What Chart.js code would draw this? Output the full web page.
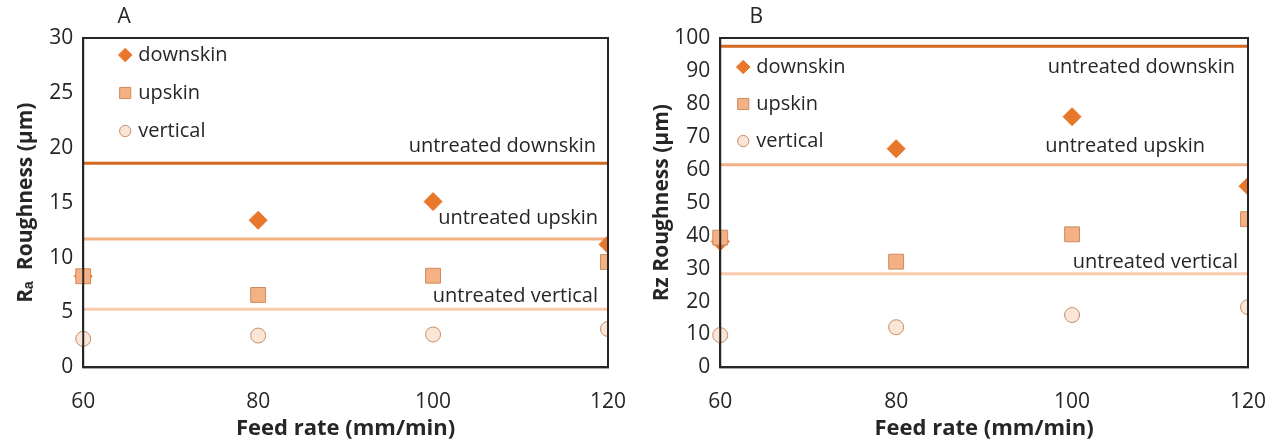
<!DOCTYPE html>
<html>
<head>
<meta charset="utf-8">
<script src="https://cdn.jsdelivr.net/npm/chart.js@4/dist/chart.umd.min.js"></script>
<style>
  body { margin: 0; background: #fff; }
  .wrap { display: flex; width: 1270px; height: 442px; }
  .box { width: 635px; height: 442px; }
</style>
</head>
<body>
<div class="wrap">
  <div class="box"><canvas id="chartA" width="635" height="442"></canvas></div>
  <div class="box"><canvas id="chartB" width="635" height="442"></canvas></div>
</div>
<script>
var feedRates = [60, 80, 100, 120];
var seriesNames = ["downskin", "upskin", "vertical"];
var untreatedNames = ["untreated downskin", "untreated upskin", "untreated vertical"];

// panel A - Ra
var raDownskin = [8.3, 13.4, 15.1, 11.2];
var raUpskin = [8.3, 6.6, 8.35, 9.6];
var raVertical = [2.6, 2.9, 3.0, 3.5];
var raUntreated = [18.6, 11.7, 5.3];
var raTicks = [0, 5, 10, 15, 20, 25, 30];

// panel B - Rz
var rzDownskin = [38.2, 66.4, 76.1, 55];
var rzUpskin = [39.4, 32.1, 40.4, 45];
var rzVertical = [9.8, 12.2, 15.9, 18.3];
var rzUntreated = [97.5, 61.5, 28.4];
var rzTicks = [0, 10, 20, 30, 40, 50, 60, 70, 80, 90, 100];

Chart.defaults.font.family = '"Open Sans", sans-serif';
Chart.defaults.color = '#262626';

var ink = '#262626';
var markerStyles = [
  { pointStyle: 'rectRot', radius: 9, bg: '#E8772B', border: '#E8772B' },
  { pointStyle: 'rect', radius: 10.5, bg: '#F4B183', border: '#D08A5C' },
  { pointStyle: 'circle', radius: 7.5, bg: '#FBE5D6', border: '#C48E6A' }
];
var lineColors = ['#D5681F', '#F4B183', '#F8CBAD'];

function pts(xs, ys) {
  return xs.map(function (x, i) { return { x: x, y: ys[i] }; });
}

function buildDatasets(series, untreated) {
  var ds = [];
  series.forEach(function (vals, i) {
    var m = markerStyles[i];
    ds.push({
      type: 'scatter',
      label: seriesNames[i],
      data: pts(feedRates, vals),
      pointStyle: m.pointStyle,
      pointRadius: m.radius,
      pointHoverRadius: m.radius,
      backgroundColor: m.bg,
      borderColor: m.border,
      pointBorderWidth: 1,
      order: 3 - i,
      clip: { left: false, top: false, right: 0, bottom: false }
    });
  });
  untreated.forEach(function (v, i) {
    ds.push({
      type: 'line',
      label: untreatedNames[i],
      data: pts([feedRates[0], feedRates[feedRates.length - 1]], [v, v]),
      borderColor: lineColors[i],
      borderWidth: 3,
      pointRadius: 0,
      order: 10
    });
  });
  return ds;
}

var extras = {
  id: 'extras',
  afterDraw: function (chart) {
    var o = chart.options.plugins.extras;
    var ctx = chart.ctx;
    var ca = chart.chartArea;
    var y = chart.scales.y;
    ctx.save();

    // frame
    ctx.strokeStyle = ink;
    ctx.lineWidth = 2;
    ctx.strokeRect(ca.left, ca.top, ca.right - ca.left, ca.bottom - ca.top);

    // panel letter
    ctx.fillStyle = ink;
    ctx.font = '21px "Open Sans"';
    ctx.textAlign = 'center';
    ctx.textBaseline = 'middle';
    ctx.fillText(o.letter, ca.left + o.letterX, 17);

    // legend inside plot
    ctx.font = '20px "Open Sans"';
    ctx.textAlign = 'left';
    for (var i = 0; i < 3; i++) {
      var ds = chart.data.datasets[i];
      var m = markerStyles[i];
      var lx = ca.left + o.legendX;
      var ly = ca.top + o.legendY + i * o.legendGap;
      ctx.fillStyle = m.bg;
      ctx.strokeStyle = m.border;
      ctx.lineWidth = 1;
      Chart.helpers.drawPoint(ctx, { pointStyle: m.pointStyle, radius: m.radius * 0.75, borderWidth: 1 }, lx, ly);
      ctx.fillStyle = ink;
      ctx.fillText(ds.label, lx + 13, ly);
    }

    // untreated labels
    ctx.textAlign = 'right';
    for (var j = 0; j < 3; j++) {
      var lds = chart.data.datasets[3 + j];
      var py = y.getPixelForValue(lds.data[0].y) + o.labelDy[j];
      ctx.fillText(lds.label, ca.right - o.labelDx[j], py);
    }
    ctx.restore();
  }
};

function makeChart(id, series, untreated, yMax, yStep, yTitle, extra) {
  return new Chart(document.getElementById(id), {
    type: 'scatter',
    data: { datasets: buildDatasets(series, untreated) },
    options: {
      responsive: false,
      animation: false,
      layout: { padding: extra.pad },
      scales: {
        x: {
          type: 'linear',
          min: 60,
          max: 120,
          ticks: { stepSize: 20, padding: 22, font: { size: 21 }, color: ink },
          grid: { display: false, drawTicks: false },
          border: { color: ink, width: 2 },
          title: { display: true, text: 'Feed rate (mm/min)', font: { size: 22, weight: 'bold' }, color: ink, padding: { top: 0, bottom: 0 } },
          afterFit: function (scale) {
            // tick padding is counted on both sides of the labels; keep it only above
            scale.height -= 21;
            scale.paddingRight = 0;
            scale.paddingLeft = 0;
          }
        },
        y: {
          min: 0,
          max: yMax,
          ticks: { stepSize: yStep, padding: 10, font: { size: 21 }, color: ink },
          grid: { display: false, drawTicks: false },
          border: { color: ink, width: 2 },
          title: { display: true, text: yTitle, font: { size: 21, weight: 'bold' }, color: ink, padding: extra.yTitlePad },
          afterFit: function (scale) {
            scale.width -= 10;
          }
        }
      },
      plugins: {
        legend: { display: false },
        tooltip: { enabled: false },
        extras: extra
      }
    },
    plugins: [extras]
  });
}

makeChart('chartA', [raDownskin, raUpskin, raVertical], raUntreated, raTicks[raTicks.length - 1], raTicks[1] - raTicks[0],
  'R\u2090  Roughness (\u03bcm)',
  { letter: 'A', letterX: 41, legendX: 42, legendY: 17, legendGap: 38, labelDx: [12, 10, 10], labelDy: [-17, -21, -13],
    yTitlePad: { top: 4, bottom: 11 },
    pad: { top: 38, right: 27, left: 9, bottom: 0 } });

makeChart('chartB', [rzDownskin, rzUpskin, rzVertical], rzUntreated, rzTicks[rzTicks.length - 1], rzTicks[1] - rzTicks[0],
  'Rz Roughness (\u03bcm)',
  { letter: 'B', letterX: 36, legendX: 23, legendY: 29, legendGap: 37, labelDx: [13, 43, 10], labelDy: [21, -19, -12],
    yTitlePad: { top: 4, bottom: 0 },
    pad: { top: 38, right: 22, left: 10, bottom: 0 } });
</script>
</body>
</html>
